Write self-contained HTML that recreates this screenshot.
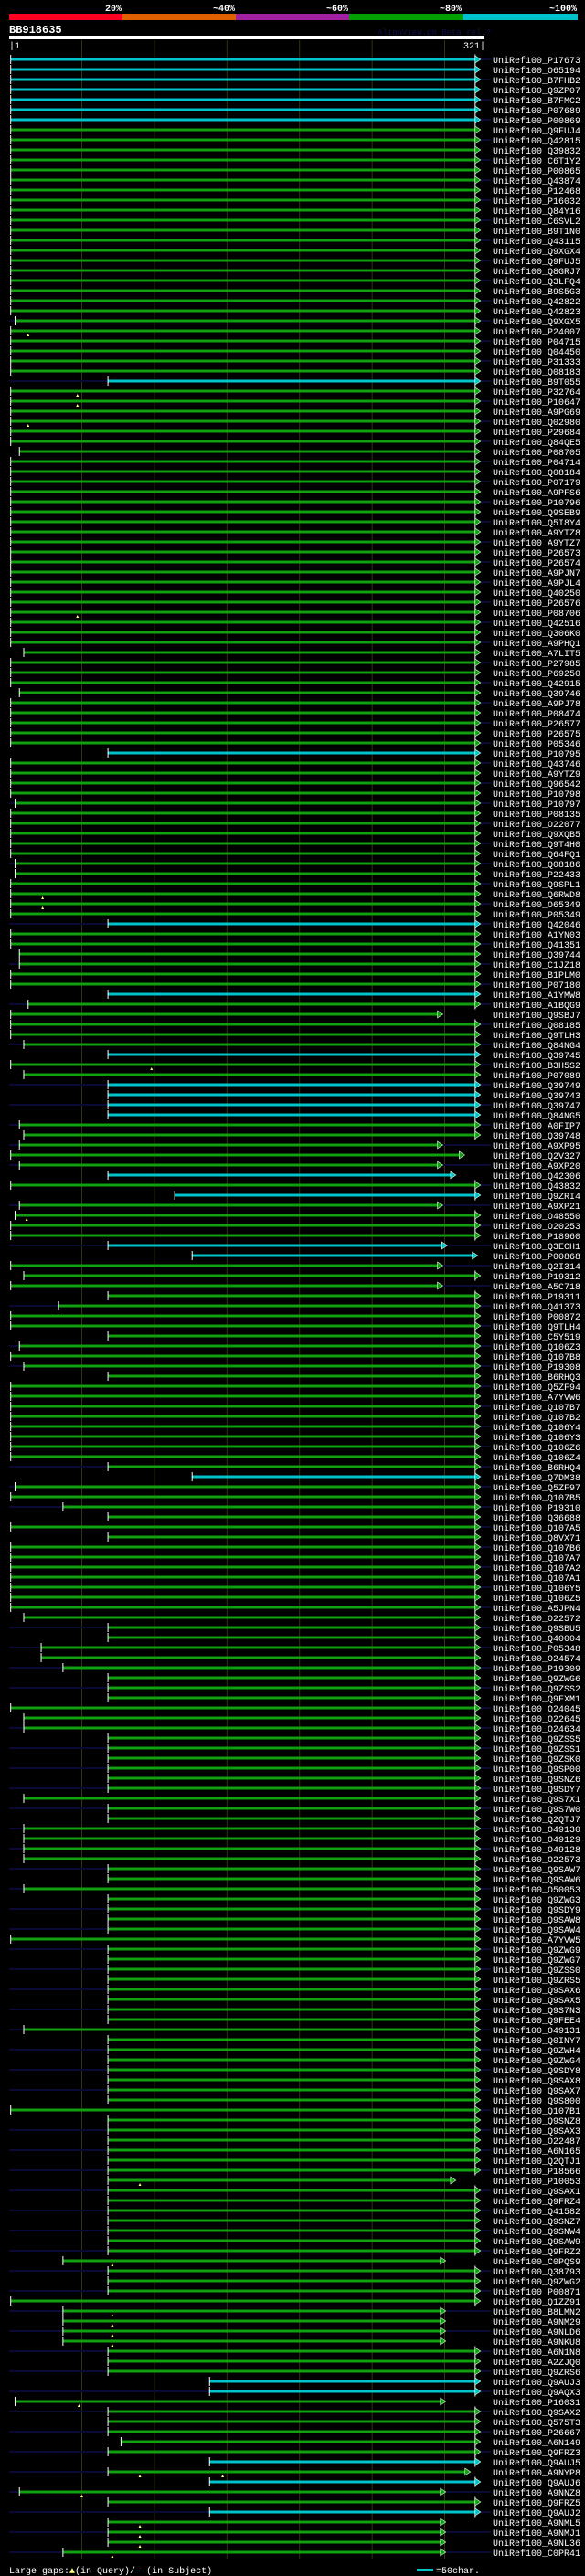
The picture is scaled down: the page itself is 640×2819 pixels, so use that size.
<!DOCTYPE html>
<html><head><meta charset="utf-8"><title>BB918635 alignment overview</title>
<style>
html,body{margin:0;padding:0;background:#000;}
body{width:640px;height:2819px;overflow:hidden;}
svg{display:block;}
text{font-family:"Liberation Mono","DejaVu Sans Mono",monospace;}
</style></head>
<body>
<svg id="chart" width="640" height="2819" viewBox="0 0 640 2819" xmlns="http://www.w3.org/2000/svg">
  <g>
    <rect x="10" y="15" width="124" height="7" fill="#ff0020"/>
    <rect x="134" y="15" width="124" height="7" fill="#e06000"/>
    <rect x="258" y="15" width="124" height="7" fill="#a020a0"/>
    <rect x="382" y="15" width="124" height="7" fill="#00a000"/>
    <rect x="506" y="15" width="126" height="7" fill="#00c0c8"/>
    <text x="133" y="12" fill="#fff" font-size="10" font-weight="bold" text-anchor="end">20%</text>
    <text x="257" y="12" fill="#fff" font-size="10" font-weight="bold" text-anchor="end">~40%</text>
    <text x="381" y="12" fill="#fff" font-size="10" font-weight="bold" text-anchor="end">~60%</text>
    <text x="505" y="12" fill="#fff" font-size="10" font-weight="bold" text-anchor="end">~80%</text>
    <text x="631" y="12" fill="#fff" font-size="10" font-weight="bold" text-anchor="end">~100%</text>
  </g>
  <text x="10" y="36" fill="#fff" font-size="12" font-weight="bold">BB918635</text>
  <text x="413" y="38" fill="#101048" font-size="9">AlignView.pm Beta rel.7</text>
  <rect x="10" y="39" width="520" height="4" fill="#fff"/>
  <text x="10" y="53" fill="#fff" font-size="10">|1</text>
  <text x="531" y="53" fill="#fff" font-size="10" text-anchor="end">321|</text>
  <g id="grid"></g>
  <g id="rows"></g>
  <g>
    <text x="10" y="2816" fill="#fff" font-size="10">Large gaps:<tspan fill="#ffff80">▲</tspan>(in Query)/<tspan fill="#00c0c8">–</tspan> (in Subject)</text>
    <rect x="456" y="2811" width="18" height="3" fill="#00c0c8"/>
    <text x="477" y="2816" fill="#fff" font-size="10">=50char.</text>
  </g>
</svg>
<script>
var names = ("P17673 O65194 B7FHB2 Q9ZP07 B7FMC2 P07689 P00869 Q9FUJ4 Q42815 Q39832 C6T1Y2 P00865 Q43874 P12468 P16032 Q84Y16 C6SVL2 B9T1N0 Q43115 Q9XGX4 Q9FUJ5 Q8GRJ7 Q3LFQ4 B9S5G3 Q42822 Q42823 Q9XGX5 P24007 P04715 Q04450 P31333 Q08183 B9T055 P32764 P10647 A9PG69 Q02980 P29684 Q84QE5 P08705 P04714 Q08184 P07179 A9PFS6 P10796 Q9SEB9 Q5I8Y4 A9YTZ8 A9YTZ7 P26573 P26574 A9PJN7 A9PJL4 Q40250 P26576 P08706 Q42516 Q306K0 A9PHQ1 A7LIT5 P27985 P69250 Q42915 " +
"Q39746 A9PJ78 P08474 P26577 P26575 P05346 P10795 Q43746 A9YTZ9 Q96542 P10798 P10797 P08135 O22077 Q9XQB5 Q9T4H0 Q64FQ1 Q08186 P22433 Q9SPL1 Q6RWD8 O65349 P05349 Q42046 A1YN03 Q41351 Q39744 C1JZ18 B1PLM0 P07180 A1YMW8 A1BQG9 Q9SBJ7 Q08185 Q9TLH3 Q84NG4 Q39745 B3H5S2 P07089 Q39749 Q39743 Q39747 Q84NG5 A0FIP7 Q39748 A9XP95 Q2V327 A9XP20 Q42306 Q43832 Q9ZRI4 A9XP21 O48550 O20253 P18960 Q3ECH1 P00868 Q2I314 P19312 A5C718 P19311 Q41373 P00872 " +
"Q9TLH4 C5Y519 Q106Z3 Q107B8 P19308 B6RHQ3 Q5ZF94 A7YVW6 Q107B7 Q107B2 Q106Y4 Q106Y3 Q106Z6 Q106Z4 B6RHQ4 Q7DM38 Q5ZF97 Q107B5 P19310 Q36688 Q107A5 Q8VX71 Q107B6 Q107A7 Q107A2 Q107A1 Q106Y5 Q106Z5 A5JPN4 O22572 Q9SBU5 Q40004 P05348 O24574 P19309 Q9ZWG6 Q9ZSS2 Q9FXM1 O24045 O22645 O24634 Q9ZSS5 Q9ZSS1 Q9ZSK0 Q9SP00 Q9SNZ6 Q9SDY7 Q9S7X1 Q9S7W0 Q2QTJ7 O49130 O49129 O49128 O22573 Q9SAW7 Q9SAW6 O50053 Q9ZWG3 Q9SDY9 Q9SAW8 Q9SAW4 A7YVW5 Q9ZWG9 " +
"Q9ZWG7 Q9ZSS0 Q9ZRS5 Q9SAX6 Q9SAX5 Q9S7N3 Q9FEE4 O49131 Q0INY7 Q9ZWH4 Q9ZWG4 Q9SDY8 Q9SAX8 Q9SAX7 Q9S800 Q107B1 Q9SNZ8 Q9SAX3 O22487 A6N165 Q2QTJ1 P18566 P10053 Q9SAX1 Q9FRZ4 Q41582 Q9SNZ7 Q9SNW4 Q9SAW9 Q9FRZ2 C0PQS9 Q38793 Q9ZWG2 P00871 Q1ZZ91 B8LMN2 A9NM29 A9NLD6 A9NKU8 A6N1N8 A2ZJQ0 Q9ZRS6 Q9AUJ3 Q9AQX3 P16031 Q9SAX2 Q575T3 P26667 A6N149 Q9FRZ3 Q9AUJ5 A9NYP8 Q9AUJ6 A9NNZ8 Q9FRZ5 Q9AUJ2 A9NML5 A9NMJ1 A9NL36 C0PR41").split(" ");

// query start position of each hit (1-based row order)
var starts = [
1,1,1,1,1,1,1,1,1,1, 1,1,1,1,1,1,1,1,1,1, 1,1,1,1,1,1,4,1,1,1, 1,1,68,1,1,1,1,1,1,7,
1,1,1,1,1,1,1,1,1,1, 1,1,1,1,1,1,1,1,1,10, 1,1,1,
7,1,1,1,1,1,68,1,1,1, 1,4,1,1,1,1,1,4,4,1, 1,1,1,68,1,1,7,7,1,1,
68,13,1,1,1,10,68,1,10,68, 68,68,68,7,10,7,1,7,68,1, 114,7,4,1,1,68,126,1,10,1, 68,34,1,
1,68,7,1,10,68,1,1,1,1, 1,1,1,1,68,126,4,1,37,68, 1,68,1,1,1,1,1,1,1,10,
68,68,22,22,37,68,68,68,1,10, 10,68,68,68,68,68,68,10,68,68, 10,10,10,10,68,68,10,68,68,68, 68,1,68,
68,68,68,68,68,68,68,10,68,68, 68,68,68,68,68,1,68,68,68,68, 68,68,68,68,68,68,68,68,68,68,
37,68,68,68,1,37,37,37,37,68, 68,68,138,138,4,68,68,68,77,68, 138,68,138,7,68,138,68,68,68,37];

// query end position of each hit
var ends = [];
for (var i = 0; i < 249; i++) ends.push(321);
var endOverrides = [[96,295],[109,295],[110,310],[111,295],[112,304],[115,295],[119,298],[120,319],[121,295],[123,295],
[212,304],[220,297],[225,297],[226,297],[227,297],[228,297],[234,297],[241,314],[243,297],[246,297],[247,297],[248,297],[249,297]];
endOverrides.forEach(function(e){ ends[e[0]-1] = e[1]; });

// identity class: c = ~100% (cyan), g = ~80% (green)
var cyanRows = [1,2,3,4,5,6,7,33,70,87,94,100,103,104,105,106,112,114,119,120,142,232,233,240,242,245];
var leftExt = [27,33,75,81,87,91,95,99,103,105,107,109,111,115,119,125,129,131,141,143,145,157,159,161,163,167,169,171,173,175,177,179,181,183,185,187,189,191,193,195,197,199,201,203,207,209,211,213,215,217,219,221,223,225,227,229,231,233,235,237,239,241,243,245,247,249];
var rightExt = [109,111,115,119,121,123,225,227,243,247,249];
// large gaps in query: [row, position]
var gapRows = [28,34,35,37,56,84,85,101,116,212,220,225,226,227,228,234,241,241,243,246,247,248,249];
var gapPos  = [13,47,47,13,47,23,23,98,12,90,71,71,71,71,71,48,90,147,50,90,90,90,71];

var gridTicks = [50,100,150,200,250,300];

var NS = "http://www.w3.org/2000/svg";
function xPos(p){ return 11.7 + (p - 1) * 1.588; }
function yRow(i){ return 65 + i * 11; }
function mk(tag, attrs, parent){
  var el = document.createElementNS(NS, tag);
  for (var k in attrs) el.setAttribute(k, attrs[k]);
  parent.appendChild(el);
  return el;
}
var grid = document.getElementById("grid");
gridTicks.forEach(function(t){
  var l = mk("line", {x1:xPos(t), x2:xPos(t), y1:44, y2:2800, stroke:"#35350e", "stroke-width":1}, grid);
  
  
});

var rows = document.getElementById("rows");
for (var i = 0; i < names.length; i++){
  var r = i + 1, y = yRow(i);
  var col = cyanRows.indexOf(r) >= 0 ? "#00c4cc" : "#10a010";
  var g = mk("g", {}, rows);
  
  
  var xs = xPos(starts[i]), xe = xPos(ends[i]);
  if (leftExt.indexOf(r) >= 0) {
    var ln = mk("rect", {x:10, y:y-1, width:Math.max(0, xs-10), height:2, fill:"#0a0a36"}, g);
    
    
  }
  if (rightExt.indexOf(r) >= 0 || ends[i] === 321) {
    var rn = mk("rect", {x:xe+6, y:y-1, width:Math.max(0, 537-xe-6), height:2, fill: (rightExt.indexOf(r) >= 0 || r % 2) ? "#0a0a36" : "#000"}, g);
    
    
  }
  var bar = mk("rect", {x:xs, y:y-1.5, width:xe-xs, height:3, fill:col}, g);
  
  
  var st = mk("rect", {x:xs-0.5, y:y-5, width:1, height:10, fill:"#fff"}, g);
  
  
  if (ends[i] === 321) {
    var et = mk("rect", {x:xe-0.5, y:y-5.5, width:1, height:11, fill:"#fff"}, g);
    
    
  }
  var ar = mk("polygon", {points:(xe)+","+(y-4)+" "+(xe+6)+","+y+" "+(xe)+","+(y+4), fill:col, stroke:"#e0ffe0", "stroke-width":0.6}, g);
  
  
  var tx = mk("text", {x:539, y:y+4, fill:"#fff", "font-size":10}, g);
  tx.textContent = "UniRef100_" + names[i];
  
  
}
for (var j = 0; j < gapRows.length; j++){
  var gy = yRow(gapRows[j]-1), gx = xPos(gapPos[j]);
  var m = mk("polygon", {points:(gx-1.5)+","+(gy+6)+" "+gx+","+(gy+3)+" "+(gx+1.5)+","+(gy+6), fill:"#ffff80"}, rows);
  
  
}
</script>
</body></html>
